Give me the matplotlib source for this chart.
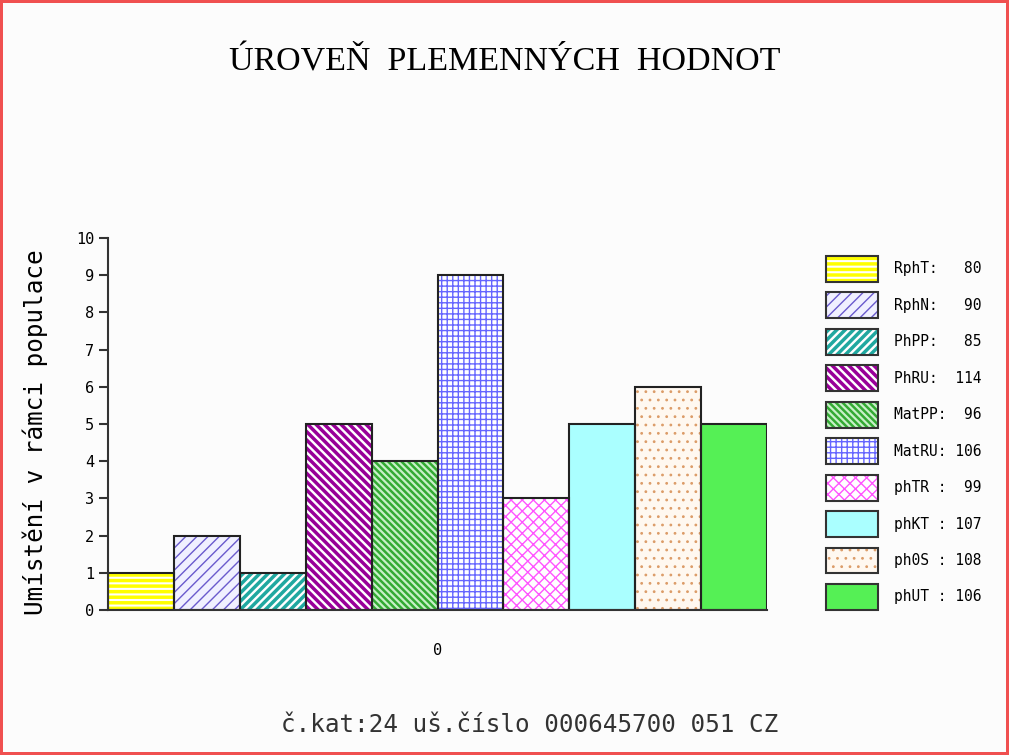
import matplotlib
matplotlib.use("Agg")
import matplotlib.pyplot as plt
from matplotlib.patches import Patch, Rectangle

# data
names = ["RphT:   80", "RphN:   90", "PhPP:   85", "PhRU:  114", "MatPP:  96",
         "MatRU: 106", "phTR :  99", "phKT : 107", "ph0S : 108", "phUT : 106"]
values = [1, 2, 1, 5, 4, 9, 3, 5, 6, 5]
face_colors = ["#ffffff", "#f0f0ff", "#ffffff", "#ffffff", "#c8f0c8",
               "#ffffff", "#ffffff", "#aaffff", "#fff8f0", "#55f055"]
hatch_colors = ["#ffff00", "#6a5acd", "#20a8a0", "#990099", "#33aa33",
                "#6666ff", "#ff55ff", "#aaffff", "#dc9c68", "#55f055"]
hatches = ["---", "///", "////", "\\\\\\\\", "\\\\\\\\\\", "+++", "xxx", "", "..", ""]
hatch_widths = [2.5, 1.0, 2.5, 2.5, 1.8, 1.0, 1.0, 1.0, 0.8, 1.0]

title = "ÚROVEŇ  PLEMENNÝCH  HODNOT"
ylabel = "Umístění v rámci populace"
footer = "č.kat:24 uš.číslo 000645700 051 CZ"

plt.rcParams["font.family"] = "DejaVu Sans Mono"

fig = plt.figure(figsize=(10.09, 7.55), dpi=100)
fig.patch.set_facecolor("#fcfcfc")
fig.patch.set_edgecolor("#f05050")
fig.patch.set_linewidth(4)

ax = fig.add_axes([108 / 1009, 145 / 755, 659 / 1009, 372 / 755])
ax.set_facecolor("#fcfcfc")

x = list(range(len(values)))

# fill + hatch layer, then black outline on top
fills = ax.bar(x, values, width=1.0, color=face_colors, edgecolor=hatch_colors, linewidth=0)
for b, h, lw in zip(fills, hatches, hatch_widths):
    b.set_hatch(h)
    if hasattr(b, "set_hatch_linewidth"):
        b.set_hatch_linewidth(lw)
ax.bar(x, values, width=1.0, fill=False, edgecolor="#222222", linewidth=1.5)

ax.set_xlim(-0.5, len(values) - 0.5)
ax.set_ylim(0, 10)
ax.set_yticks(range(11))
ax.set_xticks([(len(values) - 1) / 2])
ax.set_xticklabels(["0"])
ax.tick_params(axis="x", length=0, pad=24, labelsize=11)
ax.tick_params(axis="y", length=6.5, width=1.5, color="#333333", labelsize=11, pad=3.5)

for s in ["top", "right"]:
    ax.spines[s].set_visible(False)
for s in ["left", "bottom"]:
    ax.spines[s].set_color("#333333")
    ax.spines[s].set_linewidth(1.5)

# legend with hatch + outline overlay
handles = []
for fc, hc, h in zip(face_colors, hatch_colors, hatches):
    p = Patch(facecolor=fc, edgecolor=hc, hatch=h, linewidth=0)
    handles.append((p, Patch(fill=False, edgecolor="#333333", linewidth=1.5)))

leg = fig.legend(handles, names, loc="upper left",
                 bbox_to_anchor=(826 / 1009, 1 - 256 / 755),
                 frameon=False, fontsize=10.5, borderpad=0, borderaxespad=0,
                 handlelength=3.56, handleheight=2.36, labelspacing=0.72,
                 handletextpad=1.1)

# legend copies do not keep the hatch width, set it again
lw_map = {(h, hc): lw for h, hc, lw in zip(hatches, hatch_colors, hatch_widths)}
for r in leg.findobj(Rectangle):
    if not hasattr(r, "set_hatch_linewidth") or not r.get_hatch():
        continue
    ec = matplotlib.colors.to_hex(r.get_edgecolor())
    key = (r.get_hatch(), ec)
    if key in lw_map:
        r.set_hatch_linewidth(lw_map[key])

fig.text(0.5, 1 - 62 / 755, title, ha="center", va="center",
         fontsize=24.5, family="Liberation Serif")
fig.text(35 / 1009, 1 - 432 / 755, ylabel, rotation=90, ha="center",
         va="center", fontsize=17.5)
fig.text(530 / 1009, 1 - 725 / 755, footer, ha="center", va="center",
         fontsize=17.5, color="#333333")

fig.savefig("out.png", dpi=100, facecolor=fig.get_facecolor(),
            edgecolor=fig.get_edgecolor())
